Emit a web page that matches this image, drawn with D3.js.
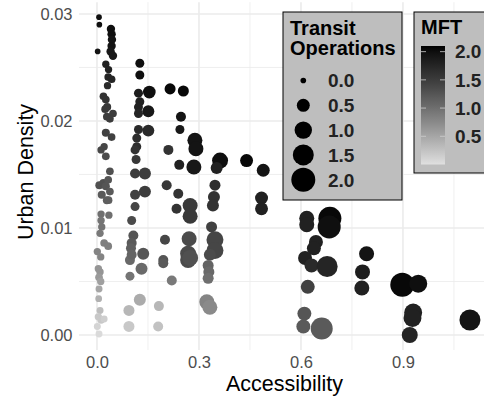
<!DOCTYPE html>
<html>
<head>
<meta charset="utf-8">
<script src="https://cdn.jsdelivr.net/npm/d3@7"></script>
<style>
  html, body { margin: 0; padding: 0; background: #ffffff; }
  svg { display: block; }
  text { font-family: "Liberation Sans", Arial, Helvetica, sans-serif; }
</style>
</head>
<body>
<svg id="chart" width="484" height="398"></svg>
<script>
// ---------------- DATA ----------------
const accessibility = [
  0.006,0.007,0.002,0.041,0.043,0.044,0.043,0.040,0.047,0.026,
  0.034,0.033,0.043,0.031,0.019,0.026,0.030,0.024,0.047,0.029,
  0.038,0.026,0.043,0.012,0.021,0.026,0.038,0.007,0.019,0.026,
  0.033,0.038,0.014,0.029,0.034,0.012,0.035,0.012,0.014,0.009,
  0.021,0.033,0.001,0.011,0.004,0.009,0.006,0.011,0.006,0.005,
  0.009,0.004,0.012,0.021,0.001,0.006,
  0.126,0.126,0.154,0.122,0.126,0.122,0.122,0.151,0.215,0.254,
  0.247,0.244,0.122,0.151,0.117,0.117,0.112,0.210,0.288,0.291,
  0.115,0.242,0.285,0.112,0.141,0.205,0.112,0.141,0.239,0.112,
  0.234,0.274,0.274,0.102,0.107,0.102,0.100,0.136,0.200,0.271,
  0.097,0.102,0.131,0.195,0.195,0.268,0.268,0.274,0.097,0.220,
  0.126,0.094,0.182,0.094,0.180,
  0.362,0.352,0.440,0.489,0.347,0.344,0.341,0.484,0.484,0.337,
  0.347,0.347,0.332,0.327,0.329,0.327,0.323,0.332,
  0.617,0.617,0.685,0.683,0.644,0.638,0.612,0.631,0.677,0.793,
  0.781,0.779,0.620,0.898,0.945,0.610,0.607,0.661,0.930,0.928,
  0.920,1.097
];
const urbanDensity = [
  0.0297,0.0290,0.0265,0.0286,0.0281,0.0276,0.0270,0.0265,0.0261,0.0253,
  0.0248,0.0241,0.0239,0.0233,0.0223,0.0220,0.0213,0.0211,0.0207,0.0204,
  0.0202,0.0189,0.0185,0.0173,0.0176,0.0167,0.0153,0.0140,0.0142,0.0139,
  0.0145,0.0134,0.0131,0.0126,0.0126,0.0113,0.0112,0.0107,0.0101,0.0095,
  0.0086,0.0083,0.0078,0.0073,0.0062,0.0059,0.0054,0.0050,0.0043,0.0034,
  0.0023,0.0017,0.0014,0.0015,0.0008,0.0001,
  0.0254,0.0243,0.0227,0.0226,0.0218,0.0213,0.0207,0.0209,0.0230,0.0228,
  0.0204,0.0192,0.0192,0.0191,0.0184,0.0176,0.0173,0.0173,0.0182,0.0174,
  0.0164,0.0159,0.0157,0.0151,0.0151,0.0140,0.0131,0.0134,0.0132,0.0120,
  0.0118,0.0121,0.0111,0.0107,0.0093,0.0086,0.0081,0.0076,0.0089,0.0090,
  0.0070,0.0075,0.0062,0.0070,0.0067,0.0076,0.0070,0.0072,0.0055,0.0051,
  0.0033,0.0023,0.0027,0.0008,0.0008,
  0.0163,0.0156,0.0163,0.0154,0.0140,0.0129,0.0121,0.0128,0.0118,0.0101,
  0.0089,0.0079,0.0075,0.0065,0.0059,0.0053,0.0031,0.0026,
  0.0109,0.0103,0.0109,0.0101,0.0087,0.0081,0.0072,0.0065,0.0064,0.0076,
  0.0059,0.0044,0.0045,0.0047,0.0048,0.0020,0.0008,0.0006,0.0021,0.0016,
  0.0000,0.0014
];
const transitOps = [
  0,0,0,0.14,0.14,0.14,0.14,0.14,0.14,0.08,
  0.08,0.10,0.10,0.08,0.10,0.10,0.12,0.10,0.10,0.10,
  0.10,0.12,0.10,0.08,0.08,0.10,0.10,0.12,0.12,0.12,
  0.10,0.10,0.12,0.12,0.10,0.08,0.08,0.08,0.08,0.08,
  0.10,0.10,0.08,0.08,0.08,0.08,0.10,0.08,0.06,0.05,
  0.06,0.08,0.08,0.06,0.06,0.06,
  0.18,0.18,0.47,0.18,0.18,0.18,0.18,0.41,0.33,0.33,
  0.25,0.18,0.18,0.41,0.18,0.18,0.18,0.25,0.71,0.71,
  0.18,0.25,0.71,0.25,0.41,0.25,0.25,0.41,0.25,0.18,
  0.25,0.71,0.71,0.18,0.25,0.25,0.25,0.41,0.25,0.71,
  0.25,0.25,0.41,0.25,0.25,0.82,0.82,0.82,0.18,0.25,
  0.41,0.33,0.25,0.33,0.25,
  0.82,0.41,0.50,0.50,0.33,0.41,0.41,0.50,0.50,0.33,
  0.94,0.94,0.41,0.33,0.33,0.33,0.71,0.71,
  0.71,0.71,1.83,1.83,0.60,0.60,0.60,0.60,1.50,0.71,
  0.71,0.71,0.60,2.00,1.07,0.60,0.60,1.66,1.07,1.07,
  0.82,1.50
];
const mft = [
  2.00,2.00,1.95,2.00,2.00,1.95,1.95,1.90,1.90,1.80,
  1.80,1.75,1.75,1.70,1.60,1.60,1.55,1.55,1.50,1.50,
  1.50,1.45,1.45,1.40,1.40,1.35,1.30,1.30,1.30,1.25,
  1.25,1.20,1.20,1.15,1.15,1.00,1.00,0.95,0.95,0.90,
  0.85,0.85,0.80,0.80,0.65,0.65,0.60,0.55,0.50,0.40,
  0.30,0.20,0.20,0.15,0.10,0.05,
  2.00,2.00,2.00,1.85,1.80,1.80,1.75,1.90,2.05,2.05,
  1.95,1.90,1.70,1.70,1.65,1.65,1.60,1.60,1.95,1.95,
  1.55,1.80,1.90,1.50,1.50,1.55,1.45,1.50,1.60,1.40,
  1.60,1.55,1.55,1.35,1.25,1.20,1.15,1.25,1.40,1.35,
  1.05,1.10,1.05,1.25,1.20,1.35,1.35,1.30,0.95,0.90,
  0.45,0.35,0.35,0.20,0.25,
  2.00,1.80,2.05,1.95,1.65,1.60,1.60,1.80,1.80,1.45,
  1.40,1.40,1.35,1.10,1.05,1.00,0.80,0.75,
  1.80,1.80,2.05,2.00,1.80,1.80,1.80,1.70,1.75,1.95,
  1.85,1.80,1.45,2.05,2.00,1.25,1.20,1.20,1.80,1.80,
  1.75,1.95
];
const xTicks = [0.0, 0.3, 0.6, 0.9];
const xMinor = [0.15, 0.45, 0.75, 1.05];
const yTicks = [0.00, 0.01, 0.02, 0.03];
const yMinor = [0.005, 0.015, 0.025];
const sizeBreaks = [0.0, 0.5, 1.0, 1.5, 2.0];
const colorBreaks = [0.5, 1.0, 1.5, 2.0];

// ---------------- SCALES ----------------
const svg = d3.select("#chart");
const panel = { left: 79, right: 490, top: 2.2, bottom: 350 };
const x = d3.scaleLinear().domain([-0.0529, 1.156]).range([panel.left, panel.right]);
const y = d3.scaleLinear().domain([-0.0014, 0.0311]).range([panel.bottom, panel.top]);
const r = d3.scaleRadial().domain([0, 2]).range([2.83, 12]);
const col = d3.scaleLinear().domain([0, 2.1]).range(["#e0e0e0", "#000000"])
  .interpolate(d3.interpolateLab).clamp(true);

svg.append("rect").attr("width", 484).attr("height", 398).attr("fill", "#ffffff");

svg.append("defs").append("clipPath").attr("id", "pclip")
  .append("rect").attr("x", panel.left).attr("y", panel.top)
  .attr("width", panel.right - panel.left).attr("height", panel.bottom - panel.top);

// grid
const grid = svg.append("g");
grid.selectAll(".vmin").data(xMinor).join("line")
  .attr("x1", d => x(d)).attr("x2", d => x(d))
  .attr("y1", panel.top).attr("y2", panel.bottom)
  .attr("stroke", "#ebebeb").attr("stroke-width", 0.8);
grid.selectAll(".hmin").data(yMinor).join("line")
  .attr("y1", d => y(d)).attr("y2", d => y(d))
  .attr("x1", panel.left).attr("x2", panel.right)
  .attr("stroke", "#ebebeb").attr("stroke-width", 0.8);
grid.selectAll(".vmaj").data(xTicks).join("line")
  .attr("x1", d => x(d)).attr("x2", d => x(d))
  .attr("y1", panel.top).attr("y2", panel.bottom)
  .attr("stroke", "#ebebeb").attr("stroke-width", 1.6);
grid.selectAll(".hmaj").data(yTicks).join("line")
  .attr("y1", d => y(d)).attr("y2", d => y(d))
  .attr("x1", panel.left).attr("x2", panel.right)
  .attr("stroke", "#ebebeb").attr("stroke-width", 1.6);

// axes labels
const xAxis = d3.axisBottom(x).tickValues(xTicks).tickFormat(d3.format(".1f")).tickSize(0).tickPadding(0);
const gx = svg.append("g").attr("transform", `translate(0,${panel.bottom})`).call(xAxis);
gx.select(".domain").remove();
gx.selectAll("text").attr("y", 18.3).attr("dy", null)
  .attr("fill", "#4d4d4d").attr("font-size", 16.5)
  .style("font-family", '"Liberation Sans", Arial, sans-serif');

const yAxis = d3.axisLeft(y).tickValues(yTicks).tickFormat(d3.format(".2f")).tickSize(0).tickPadding(0);
const gy = svg.append("g").attr("transform", `translate(72.5,0)`).call(yAxis);
gy.select(".domain").remove();
gy.selectAll("text").attr("x", 0).attr("dy", "0.35em")
  .attr("fill", "#4d4d4d").attr("font-size", 16.5)
  .style("font-family", '"Liberation Sans", Arial, sans-serif');

svg.append("text").attr("x", 284.5).attr("y", 391).attr("text-anchor", "middle")
  .attr("font-size", 21.5).attr("fill", "#000").text("Accessibility");
svg.append("text").attr("transform", "translate(33,172) rotate(-90)").attr("text-anchor", "middle")
  .attr("font-size", 21.5).attr("fill", "#000").text("Urban Density");

// points
const pts = accessibility.map((a, i) => ({ a, d: urbanDensity[i], t: transitOps[i], m: mft[i] }));
svg.append("g").attr("clip-path", "url(#pclip)")
  .selectAll("circle").data(pts).join("circle")
  .attr("cx", p => x(p.a)).attr("cy", p => y(p.d))
  .attr("r", p => r(p.t)).attr("fill", p => col(p.m));

// ---- Transit legend ----
const lg1 = svg.append("g");
lg1.append("rect").attr("x", 283).attr("y", 12).attr("width", 119).attr("height", 188)
  .attr("fill", "#bebebe").attr("stroke", "#000").attr("stroke-width", 1);
lg1.append("text").attr("x", 290).attr("y", 34.5).attr("font-size", 20).attr("font-weight", "bold")
  .attr("fill", "#000").text("Transit");
lg1.append("text").attr("x", 290).attr("y", 55).attr("font-size", 20).attr("font-weight", "bold")
  .attr("fill", "#000").text("Operations");
const rowY = d3.scaleLinear().domain([0, 4]).range([80.5, 179.7]);
lg1.selectAll("circle").data(sizeBreaks).join("circle")
  .attr("cx", 303.3).attr("cy", (d, i) => rowY(i)).attr("r", d => r(d)).attr("fill", "#000");
lg1.selectAll(".lab").data(sizeBreaks).join("text")
  .attr("x", 328).attr("y", (d, i) => rowY(i) + 6.8)
  .attr("font-size", 19).attr("font-weight", "bold").attr("fill", "#222")
  .text(d => d3.format(".1f")(d));

// ---- MFT legend ----
const lg2 = svg.append("g");
lg2.append("rect").attr("x", 414).attr("y", 12).attr("width", 90).attr("height", 161)
  .attr("fill", "#bebebe").attr("stroke", "#000").attr("stroke-width", 1);
lg2.append("text").attr("x", 421).attr("y", 34).attr("font-size", 20).attr("font-weight", "bold")
  .attr("fill", "#000").text("MFT");
const barY = d3.scaleLinear().domain([0, 2.1]).range([164.5, 46]);
const grad = svg.select("defs").append("linearGradient").attr("id", "mftgrad")
  .attr("x1", 0).attr("y1", 1).attr("x2", 0).attr("y2", 0);
d3.range(0, 21).forEach(k => {
  const v = 2.1 * k / 20;
  grad.append("stop").attr("offset", k / 20).attr("stop-color", col(v));
});
lg2.append("rect").attr("x", 421).attr("y", barY(2.1)).attr("width", 24)
  .attr("height", barY(0) - barY(2.1)).attr("fill", "url(#mftgrad)");
lg2.selectAll(".tkl").data(colorBreaks).join("line")
  .attr("x1", 421).attr("x2", 426).attr("y1", d => barY(d)).attr("y2", d => barY(d))
  .attr("stroke", "#cfcfcf").attr("stroke-width", 0.8);
lg2.selectAll(".tkr").data(colorBreaks).join("line")
  .attr("x1", 440).attr("x2", 445).attr("y1", d => barY(d)).attr("y2", d => barY(d))
  .attr("stroke", "#cfcfcf").attr("stroke-width", 0.8);
lg2.selectAll(".lab").data(colorBreaks).join("text")
  .attr("x", 455).attr("y", d => barY(d) + 6.8)
  .attr("font-size", 19).attr("font-weight", "bold").attr("fill", "#222")
  .text(d => d3.format(".1f")(d));
</script>
</body>
</html>
